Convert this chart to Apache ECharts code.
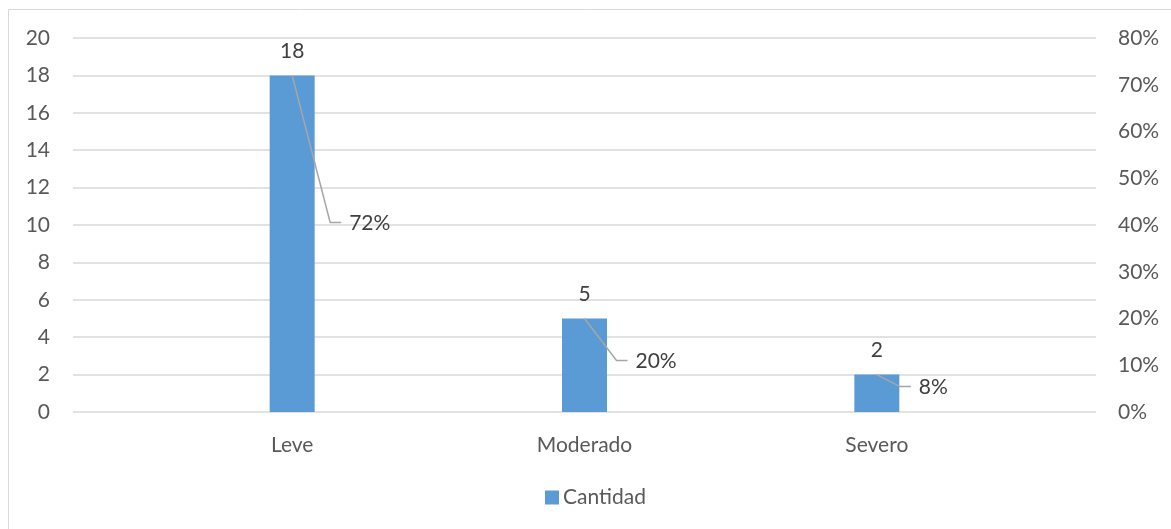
<!DOCTYPE html>
<html>
<head>
<meta charset="utf-8">
<script src="https://cdn.jsdelivr.net/npm/echarts@6/dist/echarts.min.js"></script>
<style>
  html, body { margin: 0; padding: 0; background: #fff; }
  #chart { width: 1171px; height: 529px; }
</style>
</head>
<body>
<div id="chart"></div>
<script>
// Severity categories and counts
const categories = ['Leve', 'Moderado', 'Severo'];
const cantidad = [18, 5, 2];
const porcentaje = [0.72, 0.20, 0.08];
const leftTicks = { min: 0, max: 20, interval: 2 };
const rightTicks = { min: 0, max: 0.8, interval: 0.1 };

// Where each percentage label sits relative to its point (pixels)
const pctLabelOffsets = [[38, 147], [32, 42], [23, 12]];

const FONT = 'Lato, "Open Sans", sans-serif';
const FS = 21;
const TXT = '#595959';
const GRID_LINE = '#d9d9d9';

const chart = echarts.init(document.getElementById('chart'), null, { renderer: 'canvas' });

chart.setOption({
  backgroundColor: '#ffffff',
  animation: false,
  textStyle: { fontFamily: FONT },
  graphic: [{
    type: 'rect',
    shape: { x: 8.5, y: 9.5, width: 1200, height: 600 },
    style: { fill: 'none', stroke: GRID_LINE, lineWidth: 1 },
    silent: true,
    z: -10
  }],
  grid: [
    // full-width grid carrying the value axes and gridlines
    { left: 73, right: 75, top: 38, bottom: 117 },
    // inner grid carrying the categories and marks
    { left: 146, right: 148, top: 38, bottom: 117 }
  ],
  legend: {
    data: ['Cantidad'],
    left: 540,
    top: 482,
    itemWidth: 14,
    itemHeight: 14,
    itemGap: 5,
    icon: 'rect',
    textStyle: { fontFamily: FONT, fontSize: FS, color: TXT, padding: [0, 0, 0, -1] }
  },
  xAxis: [
    { type: 'value', gridIndex: 0, min: 0, max: 1, show: false },
    {
      type: 'category', gridIndex: 1, data: categories,
      axisLine: { show: false },
      axisTick: { show: false },
      axisLabel: { fontFamily: FONT, fontSize: FS, color: TXT, margin: 23 }
    }
  ],
  yAxis: [
    {
      type: 'value', gridIndex: 0, position: 'left',
      min: leftTicks.min, max: leftTicks.max, interval: leftTicks.interval,
      axisLine: { show: false }, axisTick: { show: false },
      splitLine: { lineStyle: { color: GRID_LINE, width: 1.5 } },
      axisLabel: { fontFamily: FONT, fontSize: FS, color: TXT, margin: 23 }
    },
    {
      type: 'value', gridIndex: 0, position: 'right',
      min: rightTicks.min, max: rightTicks.max, interval: rightTicks.interval,
      axisLine: { show: false }, axisTick: { show: false },
      splitLine: { show: false },
      axisLabel: {
        fontFamily: FONT, fontSize: FS, color: TXT, margin: 22,
        formatter: v => Math.round(v * 100) + '%'
      }
    },
    { type: 'value', gridIndex: 1, min: leftTicks.min, max: leftTicks.max, show: false },
    { type: 'value', gridIndex: 1, min: rightTicks.min, max: rightTicks.max, show: false }
  ],
  series: [
    {
      name: 'Cantidad',
      type: 'bar',
      xAxisIndex: 1,
      yAxisIndex: 2,
      barWidth: 45,
      data: cantidad,
      itemStyle: { color: '#5b9bd5' },
      label: {
        show: true, position: 'top', distance: 14,
        fontFamily: FONT, fontSize: FS, color: '#404040'
      }
    },
    {
      name: 'Porcentaje',
      type: 'custom',
      xAxisIndex: 1,
      yAxisIndex: 3,
      data: porcentaje.map((p, i) => [i, p]),
      renderItem: function (params, api) {
        const pt = api.coord([api.value(0), api.value(1)]);
        const off = pctLabelOffsets[params.dataIndex];
        const bx = pt[0] + off[0], by = pt[1] + off[1];
        return {
          type: 'group',
          children: [
            {
              type: 'polyline',
              shape: { points: [pt, [bx, by], [bx + 11, by]] },
              style: { fill: null, stroke: '#a6a6a6', lineWidth: 1.5 }
            },
            {
              type: 'text',
              style: {
                x: bx + 19, y: by + 1,
                text: Math.round(api.value(1) * 100) + '%',
                font: FS + 'px ' + FONT,
                fill: '#404040',
                textAlign: 'left',
                textVerticalAlign: 'middle'
              }
            }
          ]
        };
      },
      z: 5
    }
  ]
});
</script>
</body>
</html>
